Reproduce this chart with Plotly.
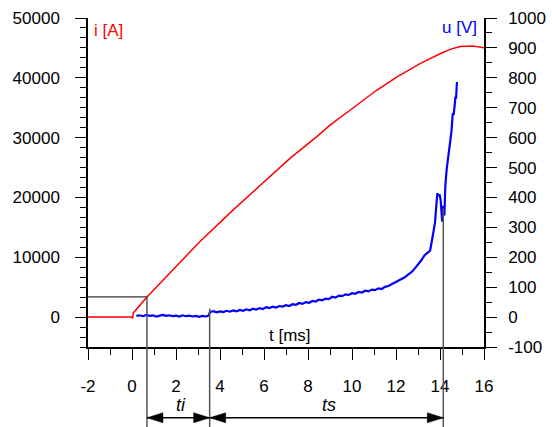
import plotly.graph_objects as go

# ---- data: current i [A] (left axis) ----
t_i = [-2.0, -0.1, 0.0, 0.02, 0.06, 0.68, 1.8, 3.09, 4.6, 6.12, 7.18, 8.39, 9.0, 9.91,
       11.12, 12.03, 13.09, 14.0, 14.5, 14.91, 15.5, 16.0]
i_vals = [0, 0, 0, -250, 700, 3370, 7600, 12630, 17920, 22920, 26530, 30130, 32080, 34580,
          37920, 40130, 42370, 44030, 44800, 45250, 45300, 45030]

# ---- data: voltage u [V] (right axis) ----
t_u = [0.20, 0.35, 0.50, 0.65, 0.80, 0.95, 1.10, 1.25, 1.40, 1.55, 1.70, 1.85, 2.00,
       2.15, 2.30, 2.45, 2.60, 2.75, 2.90, 3.05, 3.20, 3.35, 3.48, 3.55, 3.70, 3.85,
       4.00, 4.15, 4.30, 4.45, 4.60, 4.75, 4.90, 5.05, 5.20, 5.35, 5.50, 5.65, 5.80,
       5.95, 6.10, 6.25, 6.40, 6.55, 6.70, 6.85, 7.00, 7.15, 7.30, 7.45, 7.60, 7.75,
       7.90, 8.05, 8.20, 8.35, 8.50, 8.65, 8.80, 8.95, 9.10, 9.25, 9.40, 9.55, 9.70,
       9.85, 10.00, 10.15, 10.30, 10.45, 10.60, 10.75, 10.90, 11.05, 11.20, 11.35,
       11.50, 11.65, 11.80, 11.95, 12.10, 12.25, 12.40, 12.55, 12.70, 12.85, 13.00,
       13.15, 13.30, 13.45, 13.55, 13.62, 13.70, 13.77, 13.83, 13.88, 13.93, 13.98,
       14.03, 14.07, 14.10, 14.13, 14.16, 14.20, 14.24, 14.30, 14.37, 14.45, 14.52,
       14.58, 14.62, 14.67, 14.70, 14.73, 14.77]
u_vals = [4, 6, 3, 7, 4, 6, 2, 5, 7, 4, 6, 3, 5,
          2, 6, 3, 5, 2, 4, 1, 4, 2, 5, 17, 20, 16,
          19, 17, 21, 18, 22, 19, 24, 21, 26, 23, 28, 25, 30,
          27, 33, 30, 35, 32, 37, 35, 40, 37, 43, 41, 47, 44,
          50, 48, 54, 52, 58, 56, 62, 60, 68, 65, 72, 70, 76,
          74, 80, 78, 84, 82, 88, 86, 92, 90, 96, 94,
          101, 104, 110, 115, 121, 126, 133, 142, 150, 162, 175,
          190, 207, 216, 222, 250, 285, 314, 370, 414, 405, 410,
          392, 340, 319, 355, 372, 340, 436, 492, 530, 569, 620,
          681, 676, 710, 736, 730, 786]

# ---- tick labels ----
x_tickvals = [-2, 0, 2, 4, 6, 8, 10, 12, 14, 16]
x_ticktext = ["-2", "0", "2", "4", "6", "8", "10", "12", "14", "16"]
y1_tickvals = [0, 10000, 20000, 30000, 40000, 50000]
y1_ticktext = ["0", "10000", "20000", "30000", "40000", "50000"]
y2_tickvals = [-100, 0, 100, 200, 300, 400, 500, 600, 700, 800, 900, 1000]
y2_ticktext = ["-100", "0", "100", "200", "300", "400", "500", "600", "700", "800", "900", "1000"]

# ---- annotation markers ----
t_marks = [0.68, 3.53, 14.15]          # start of ti, end of ti / start of ts, end of ts
mark_tops = [3370, 1420, 18250]        # top of each marker line, in A
i_level = 3370                         # current level for horizontal marker
period_labels = ["ti", "ts"]

Y1_RANGE = [-5000, 50000]
Y2_RANGE = [-100, 1000]
FONT = "Liberation Sans, Arial, sans-serif"
FS = 17


def to_paper(v):
    return (v - Y1_RANGE[0]) / (Y1_RANGE[1] - Y1_RANGE[0])


fig = go.Figure()
fig.add_trace(go.Scatter(x=t_i, y=i_vals, mode="lines",
                         line=dict(color="#ff0000", width=1.5), yaxis="y"))
fig.add_trace(go.Scatter(x=t_u, y=u_vals, mode="lines",
                         line=dict(color="#0000ff", width=2.2), yaxis="y2"))

shapes = []
shapes.append(dict(type="line", xref="x", yref="y", x0=-2, x1=t_marks[0],
                   y0=i_level, y1=i_level, line=dict(color="black", width=1)))
bottom = -0.26
for tm, top in zip(t_marks, mark_tops):
    shapes.append(dict(type="line", xref="x", yref="paper", x0=tm, x1=tm,
                       y0=to_paper(top), y1=bottom, line=dict(color="#555555", width=1.5)))

arrow_y = -0.215
for a, b in zip(t_marks[:-1], t_marks[1:]):
    shapes.append(dict(type="line", xref="x", yref="paper", x0=a, x1=b,
                       y0=arrow_y, y1=arrow_y, line=dict(color="black", width=1.5)))
    shapes.append(dict(type="path", xref="x", yref="paper", xsizemode="pixel",
                       ysizemode="pixel", xanchor=a, yanchor=arrow_y,
                       path="M0,0 L16,5 L16,-5 Z", fillcolor="black",
                       line=dict(color="black", width=0.5)))
    shapes.append(dict(type="path", xref="x", yref="paper", xsizemode="pixel",
                       ysizemode="pixel", xanchor=b, yanchor=arrow_y,
                       path="M0,0 L-16,5 L-16,-5 Z", fillcolor="black",
                       line=dict(color="black", width=0.5)))

annotations = []
for (a, b), lab in zip(zip(t_marks[:-1], t_marks[1:]), period_labels):
    annotations.append(dict(x=(a + b) / 2 + 0.1, y=-0.175, xref="x", yref="paper",
                            text=lab, showarrow=False, yanchor="middle",
                            font=dict(family=FONT, size=FS + 1, color="black", style="italic")))
annotations.append(dict(x=7.16, y=-3050, xref="x", yref="y", text="t [ms]",
                        showarrow=False, font=dict(family=FONT, size=FS, color="black")))
annotations.append(dict(x=-1.82, y=47900, xref="x", yref="y", text="i [A]",
                        showarrow=False, xanchor="left",
                        font=dict(family=FONT, size=FS, color="#ff0000")))
annotations.append(dict(x=15.75, y=48400, xref="x", yref="y", text="u [V]",
                        showarrow=False, xanchor="right",
                        font=dict(family=FONT, size=FS, color="#0000ff")))

axis_common = dict(showgrid=False, zeroline=False, showline=True, linecolor="black",
                   linewidth=1.5, ticks="outside", ticklen=11, tickwidth=1.3,
                   tickcolor="black", automargin=False, tickmode="array",
                   tickfont=dict(family=FONT, size=FS, color="black"))
minor_common = dict(ticks="outside", ticklen=6, tickcolor="black", tickwidth=1.3)

fig.update_layout(
    template="none",
    width=552, height=427,
    margin=dict(l=88, r=68, t=17.5, b=80, autoexpand=False),
    paper_bgcolor="white", plot_bgcolor="white",
    showlegend=False,
    shapes=shapes, annotations=annotations,
    xaxis=dict(range=[-2, 16], tickvals=x_tickvals, ticktext=x_ticktext,
               ticklabelstandoff=12, minor=dict(dtick=1, tick0=0, **minor_common),
               **axis_common),
    yaxis=dict(range=Y1_RANGE, tickvals=y1_tickvals, ticktext=y1_ticktext,
               ticklabelstandoff=12, minor=dict(dtick=10000 / 6, tick0=0, **minor_common),
               **axis_common),
    yaxis2=dict(range=Y2_RANGE, tickvals=y2_tickvals, ticktext=y2_ticktext,
                overlaying="y", side="right", ticklabelstandoff=8,
                minor=dict(dtick=50, tick0=0, **minor_common),
                **axis_common),
)

fig.write_html("out.html", config={"displayModeBar": False},
               post_script="document.body.style.margin='0';document.body.style.overflow='hidden';")
